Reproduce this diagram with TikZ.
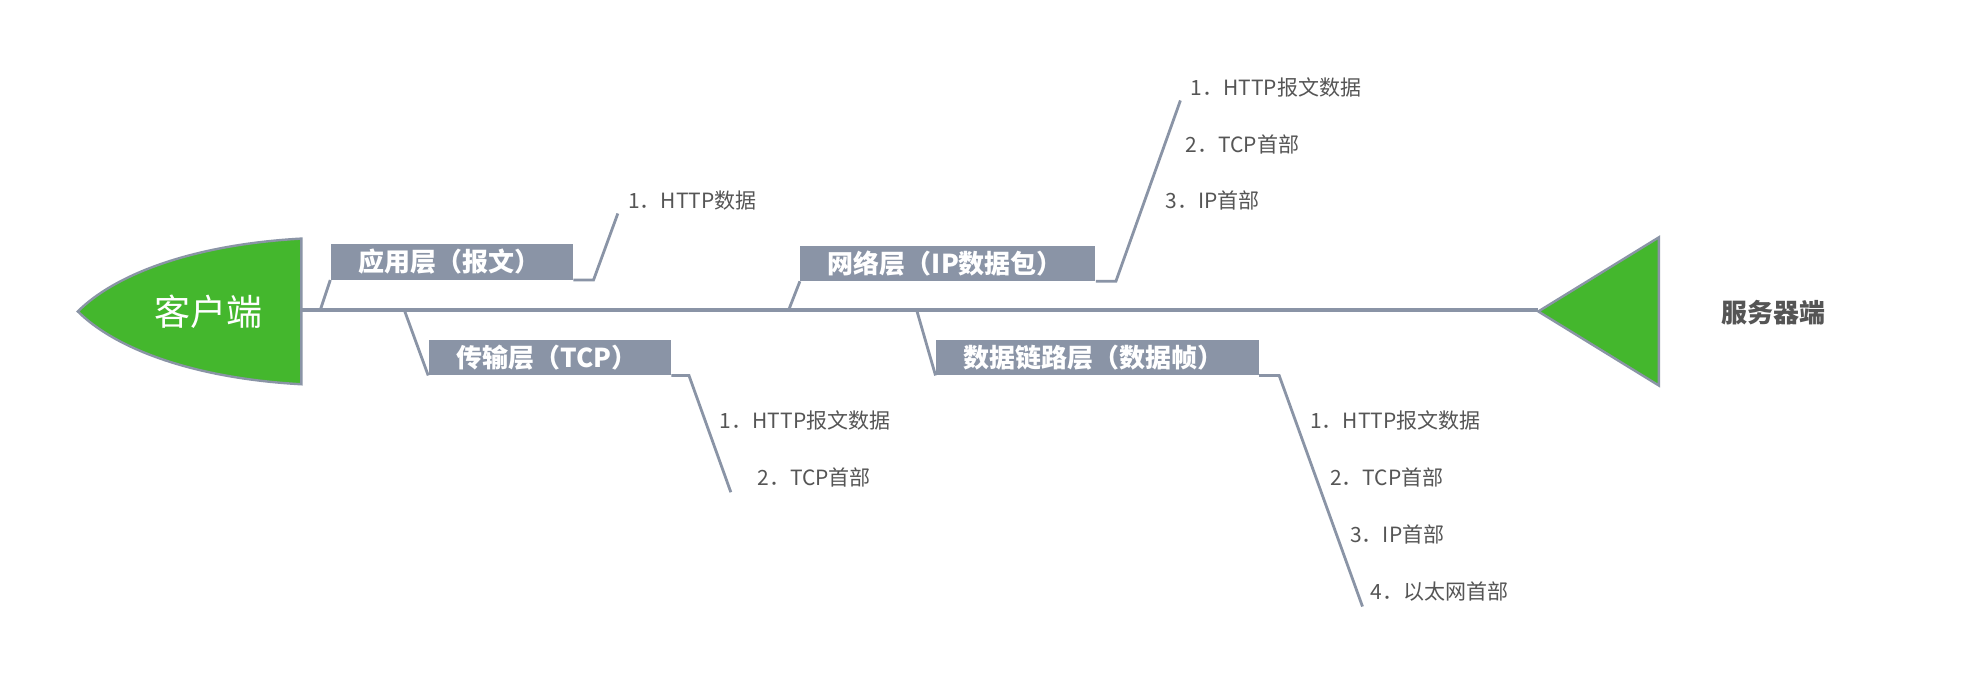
\documentclass[tikz,border=0pt]{standalone}
\usepackage{fontspec}
\setmainfont{Noto Sans CJK SC}
\usetikzlibrary{positioning}
\definecolor{bonegray}{HTML}{8A94A6}
\definecolor{fishgreen}{HTML}{44B72D}
\definecolor{itemgray}{HTML}{555555}
\tikzset{
  layerbox/.style={fill=bonegray, text=white, font=\bfseries\fontsize{13}{15}\selectfont, inner xsep=22*0.628pt, inner ysep=0pt,
    text width=#1*0.628pt-44*0.628pt, align=left, minimum height=28*0.628pt, anchor=south west},
  item/.style={text=itemgray, font=\fontsize{10.5}{12}\selectfont, anchor=west, inner sep=0pt},
  bone/.style={draw=bonegray, line width=1.4pt}
}
\begin{document}
\begin{tikzpicture}[x=0.628pt, y=-0.628pt]
\useasboundingbox[fill=white] (0,0) rectangle (1568,542);
% spine
\draw[bone, line width=2pt] (240,247) -- (1225,247);
% head and tail
\draw[draw=bonegray, line width=1.2pt, fill=fishgreen] (240,190) .. controls (150,195) and (90,220) .. (62,248) .. controls (90,276) and (150,301) .. (240,306) -- cycle;
\node[text=white, font=\fontsize{18}{20}\selectfont] (client) at (166,248) {客户端};
\draw[draw=bonegray, line width=1.2pt, fill=fishgreen] (1225,248) -- (1321,189) -- (1321,307) -- cycle;
\node[text=itemgray, font=\bfseries\fontsize{13}{15}\selectfont] (server) at (1412,249) {服务器端};
% layer boxes
\node[layerbox=193] (app) at (263,223) {应用层（报文）};
\node[layerbox=193] (tcp) at (341,299) {传输层（TCP）};
\node[layerbox=235] (ip) at (637,224) {网络层（IP数据包）};
\node[layerbox=257] (link) at (745,299) {数据链路层（数据帧）};
% branch roots and tips
\coordinate (r1) at (255,247); \coordinate (t1) at (492,170);
\coordinate (r2) at (322,247); \coordinate (t2) at (582,392);
\coordinate (r3) at (628,247); \coordinate (t3) at (940,80);
\coordinate (r4) at (730,247); \coordinate (t4) at (1085,483);
\draw[bone] (r1) -- (app.south west);
\draw[bone] (app.south east) -- ++(16,0) -- (t1);
\draw[bone] (r2) -- (tcp.south west);
\draw[bone] (tcp.south east) -- ++(14,0) -- (t2);
\draw[bone] (r3) -- (ip.south west);
\draw[bone] (ip.south east) -- ++(16,0) -- (t3);
\draw[bone] (r4) -- (link.south west);
\draw[bone] (link.south east) -- ++(16,0) -- (t4);
% items
\node[item] (a1) at (500,160) {1．HTTP数据};
\node[item] (b1) at (573,335) {1．HTTP报文数据};
\node[item] (b2) at (603,380) {2．TCP首部};
\node[item] (c1) at (948,70) {1．HTTP报文数据};
\node[item] (c2) at (944,115) {2．TCP首部};
\node[item] (c3) at (928,160) {3．IP首部};
\node[item] (d1) at (1043,335) {1．HTTP报文数据};
\node[item] (d2) at (1059,380) {2．TCP首部};
\node[item] (d3) at (1075,426) {3．IP首部};
\node[item] (d4) at (1091,471) {4．以太网首部};
\end{tikzpicture}
\end{document}
